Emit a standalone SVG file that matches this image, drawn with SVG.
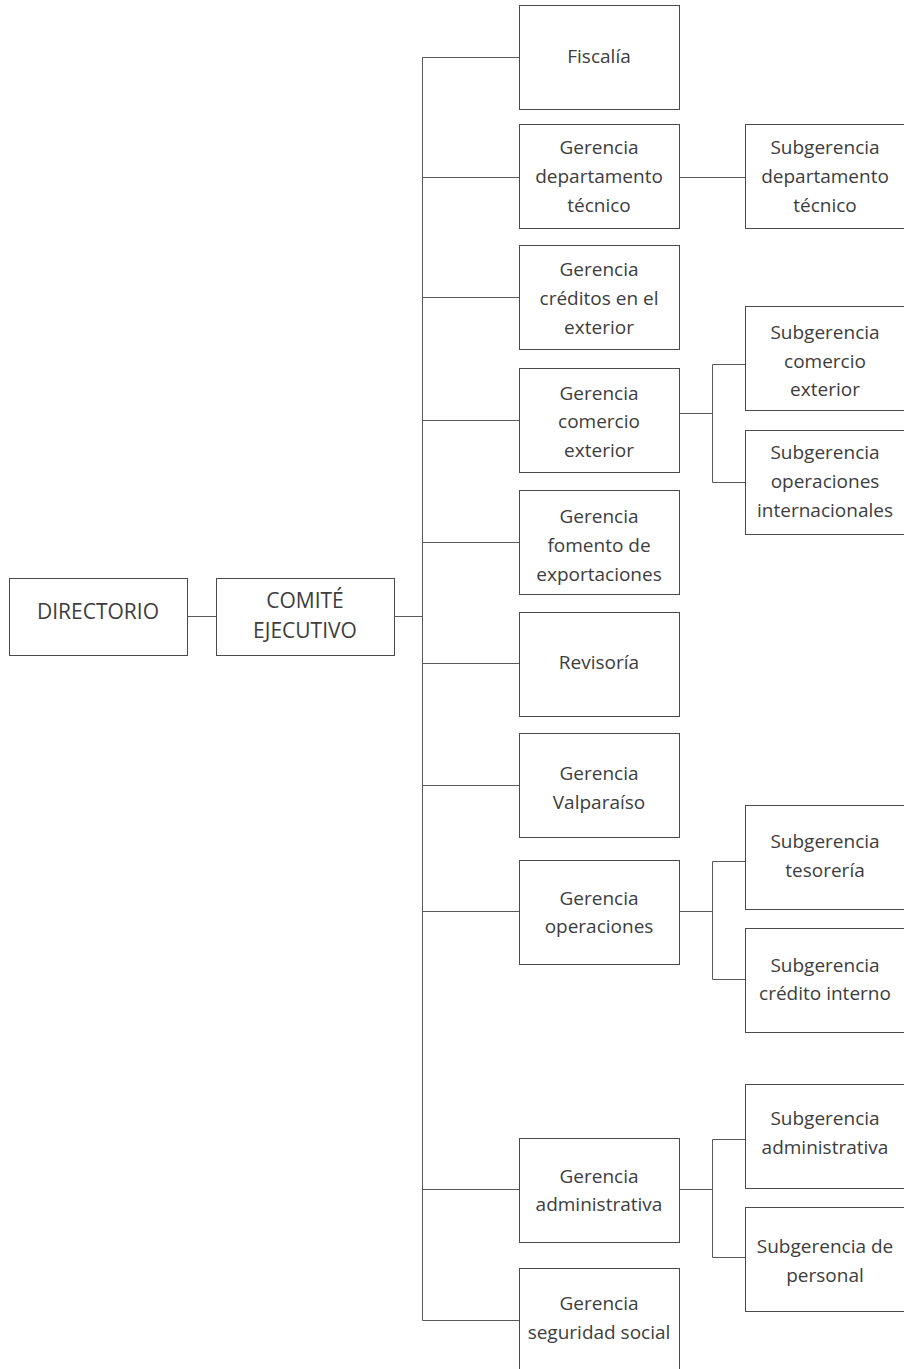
<svg xmlns="http://www.w3.org/2000/svg" width="904" height="1369" viewBox="0 0 904 1369">
<style>
.box{fill:#fff;stroke:#4a4a4a;stroke-width:1}
.ln{fill:none;stroke:#5a5a5a;stroke-width:1}
text{font-family:"Open Sans","Noto Sans",sans-serif;font-size:19px;fill:#3d3d3d;text-anchor:middle}
.cap{font-size:21px}
</style>
<rect width="904" height="1369" fill="#fff"/>
<g id="connectors">
<path class="ln" d="M187 616.5H216M394 616.5H422.5M422.5 57.5V1320.5"/>
<path class="ln" d="M422.5 57.5H519.5M422.5 177.5H519.5M422.5 297.5H519.5M422.5 420.5H519.5M422.5 542.5H519.5M422.5 663.5H519.5M422.5 785.5H519.5M422.5 911.5H519.5M422.5 1189.5H519.5M422.5 1320.5H519.5"/>
<path class="ln" d="M679.5 177.5H745.5"/>
<path class="ln" d="M679.5 413.5H712.5M712.5 364.5V482.5M712.5 364.5H745.5M712.5 482.5H745.5"/>
<path class="ln" d="M679.5 911.5H712.5M712.5 861.5V979.5M712.5 861.5H745.5M712.5 979.5H745.5"/>
<path class="ln" d="M679.5 1189.5H712.5M712.5 1139.5V1257.5M712.5 1139.5H745.5M712.5 1257.5H745.5"/>
</g>
<g id="directorio"><rect class="box" x="9.5" y="578.5" width="178" height="77"/><text class="cap" x="98" y="619">DIRECTORIO</text></g>
<g id="comite"><rect class="box" x="216.5" y="578.5" width="178" height="77"/><text class="cap" x="305" y="608">COMITÉ</text><text class="cap" x="305" y="638">EJECUTIVO</text></g>
<g id="fiscalia"><rect class="box" x="519.5" y="5.5" width="160" height="104"/><text x="599" y="63">Fiscalía</text></g>
<g id="g-depto"><rect class="box" x="519.5" y="124.5" width="160" height="104"/><text x="599" y="154">Gerencia</text><text x="599" y="183">departamento</text><text x="599" y="212">técnico</text></g>
<g id="s-depto"><rect class="box" x="745.5" y="124.5" width="160" height="104"/><text x="825" y="154">Subgerencia</text><text x="825" y="183">departamento</text><text x="825" y="212">técnico</text></g>
<g id="g-creditos"><rect class="box" x="519.5" y="245.5" width="160" height="104"/><text x="599" y="276">Gerencia</text><text x="599" y="305">créditos en el</text><text x="599" y="334">exterior</text></g>
<g id="g-comercio"><rect class="box" x="519.5" y="368.5" width="160" height="104"/><text x="599" y="400">Gerencia</text><text x="599" y="428">comercio</text><text x="599" y="457">exterior</text></g>
<g id="s-comercio"><rect class="box" x="745.5" y="306.5" width="160" height="104"/><text x="825" y="339">Subgerencia</text><text x="825" y="368">comercio</text><text x="825" y="396">exterior</text></g>
<g id="s-opint"><rect class="box" x="745.5" y="430.5" width="160" height="104"/><text x="825" y="459">Subgerencia</text><text x="825" y="488">operaciones</text><text x="825" y="517">internacionales</text></g>
<g id="g-fomento"><rect class="box" x="519.5" y="490.5" width="160" height="104"/><text x="599" y="523">Gerencia</text><text x="599" y="552">fomento de</text><text x="599" y="581">exportaciones</text></g>
<g id="revisoria"><rect class="box" x="519.5" y="612.5" width="160" height="104"/><text x="599" y="669">Revisoría</text></g>
<g id="g-valparaiso"><rect class="box" x="519.5" y="733.5" width="160" height="104"/><text x="599" y="780">Gerencia</text><text x="599" y="809">Valparaíso</text></g>
<g id="g-operaciones"><rect class="box" x="519.5" y="860.5" width="160" height="104"/><text x="599" y="905">Gerencia</text><text x="599" y="933">operaciones</text></g>
<g id="s-tesoreria"><rect class="box" x="745.5" y="805.5" width="160" height="104"/><text x="825" y="848">Subgerencia</text><text x="825" y="877">tesorería</text></g>
<g id="s-credito"><rect class="box" x="745.5" y="928.5" width="160" height="104"/><text x="825" y="972">Subgerencia</text><text x="825" y="1000">crédito interno</text></g>
<g id="g-admin"><rect class="box" x="519.5" y="1138.5" width="160" height="104"/><text x="599" y="1183">Gerencia</text><text x="599" y="1211">administrativa</text></g>
<g id="s-admin"><rect class="box" x="745.5" y="1084.5" width="160" height="104"/><text x="825" y="1125">Subgerencia</text><text x="825" y="1154">administrativa</text></g>
<g id="s-personal"><rect class="box" x="745.5" y="1207.5" width="160" height="104"/><text x="825" y="1253">Subgerencia de</text><text x="825" y="1282">personal</text></g>
<g id="g-seguridad"><rect class="box" x="519.5" y="1268.5" width="160" height="104"/><text x="599" y="1310">Gerencia</text><text x="599" y="1339">seguridad social</text></g>
</svg>
